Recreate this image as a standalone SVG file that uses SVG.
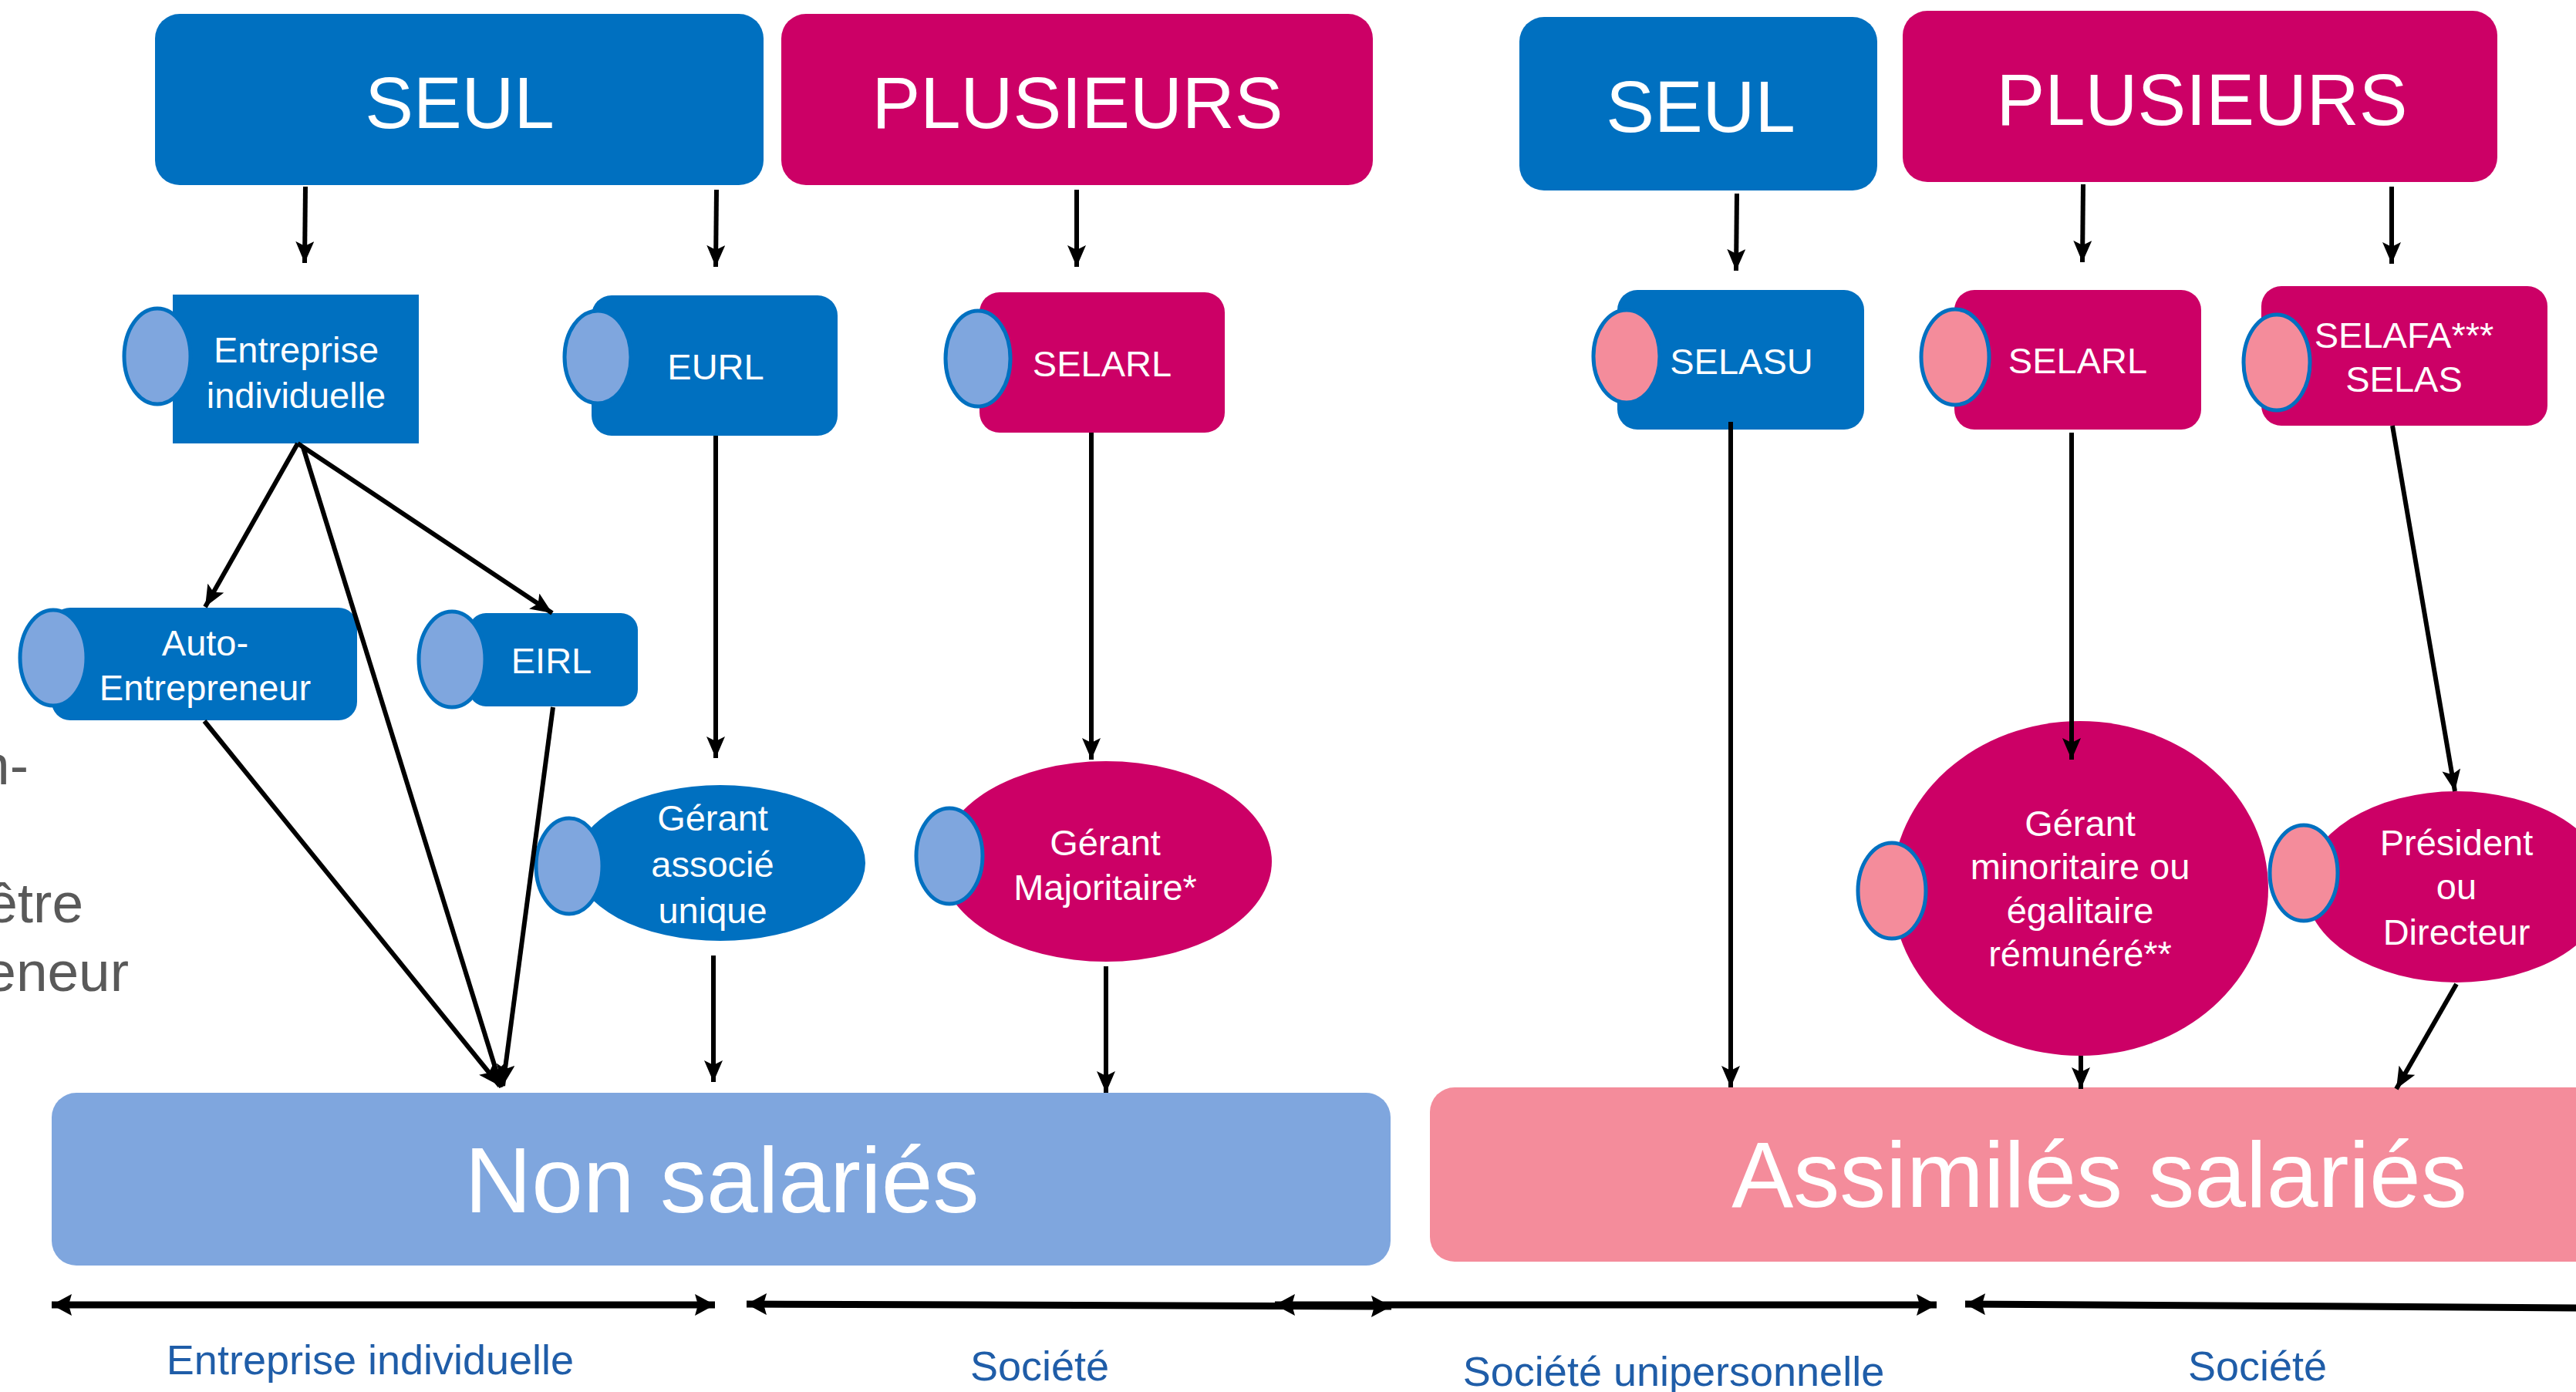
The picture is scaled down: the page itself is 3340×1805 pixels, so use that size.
<svg xmlns="http://www.w3.org/2000/svg" width="3340" height="1805" viewBox="0 0 3340 1805">
<style>
.blue{fill:#0070C0}
.mag{fill:#CC0066}
.lb{fill:#7FA6DE;stroke:#0070C0;stroke-width:5}
.pk{fill:#F48C9B;stroke:#0070C0;stroke-width:5}
text{font-family:"Liberation Sans",Arial,sans-serif;fill:#fff;text-anchor:middle}
.big{font-size:94px}
.node{font-size:47px}
.huge{font-size:120px}
.lbl{font-size:54px;fill:#1F5DA8}
.grey{font-size:73px;fill:#595959;text-anchor:end}
.c{fill:none;stroke:#000;stroke-width:6}
.b{fill:none;stroke:#000;stroke-width:9}
</style>
<defs>
<marker id="ah" markerUnits="userSpaceOnUse" markerWidth="28" markerHeight="24" viewBox="0 0 28 24" refX="28" refY="12" orient="auto"><path d="M0,0 L28,12 L0,24 L6,12 z" fill="#000"/></marker>
<marker id="bh" markerUnits="userSpaceOnUse" markerWidth="26" markerHeight="28" viewBox="0 0 26 28" refX="26" refY="14" orient="auto-start-reverse"><path d="M0,0 L26,14 L0,28 L4,14 z" fill="#000"/></marker>
</defs>

<g id="side-text">
<text class="grey" x="37" y="1017">n-</text>
<text class="grey" x="108" y="1196">être</text>
<text class="grey" x="167" y="1285">eneur</text>
</g>

<g id="seul-left"><rect class="blue" x="201" y="18" width="789" height="222" rx="32"/><text class="big" x="596" y="166">SEUL</text></g>
<g id="plusieurs-left"><rect class="mag" x="1013" y="18" width="767" height="222" rx="32"/><text class="big" x="1397" y="166">PLUSIEURS</text></g>
<g id="seul-right"><rect class="blue" x="1970" y="22" width="464" height="225" rx="32"/><text class="big" x="2205" y="171">SEUL</text></g>
<g id="plusieurs-right"><rect class="mag" x="2467" y="14" width="771" height="222" rx="32"/><text class="big" x="2855" y="162">PLUSIEURS</text></g>

<g id="ei"><rect class="blue" x="224" y="382" width="319" height="193"/><ellipse class="lb" cx="204" cy="462" rx="43" ry="62"/><text class="node" x="384" y="470">Entreprise</text><text class="node" x="384" y="529">individuelle</text></g>
<g id="eurl"><rect class="blue" x="767" y="383" width="319" height="182" rx="26"/><ellipse class="lb" cx="775" cy="463" rx="43" ry="60"/><text class="node" x="928" y="492">EURL</text></g>
<g id="selarl-left"><rect class="mag" x="1270" y="379" width="318" height="182" rx="26"/><ellipse class="lb" cx="1268" cy="465" rx="42" ry="62"/><text class="node" x="1429" y="488">SELARL</text></g>
<g id="selasu"><rect class="blue" x="2097" y="376" width="320" height="181" rx="26"/><ellipse class="pk" cx="2109" cy="462" rx="43" ry="60"/><text class="node" x="2258" y="485">SELASU</text></g>
<g id="selarl-right"><rect class="mag" x="2534" y="376" width="320" height="181" rx="26"/><ellipse class="pk" cx="2535" cy="463" rx="44" ry="62"/><text class="node" x="2694" y="484">SELARL</text></g>
<g id="selafa"><rect class="mag" x="2932" y="371" width="371" height="181" rx="26"/><ellipse class="pk" cx="2952" cy="470" rx="43" ry="62"/><text class="node" x="3117" y="451">SELAFA***</text><text class="node" x="3117" y="508">SELAS</text></g>

<g id="auto"><rect class="blue" x="67" y="788" width="396" height="146" rx="24"/><ellipse class="lb" cx="69" cy="853" rx="43" ry="62"/><text class="node" x="266" y="850">Auto-</text><text class="node" x="266" y="908">Entrepreneur</text></g>
<g id="eirl"><rect class="blue" x="608" y="795" width="219" height="121" rx="22"/><ellipse class="lb" cx="586" cy="855" rx="43" ry="62"/><text class="node" x="715" y="873">EIRL</text></g>

<g id="gerant-associe"><ellipse class="blue" cx="934" cy="1119" rx="188" ry="101"/><ellipse class="lb" cx="738" cy="1123" rx="43" ry="62"/><text class="node" x="924" y="1077">Gérant</text><text class="node" x="924" y="1137">associé</text><text class="node" x="924" y="1197">unique</text></g>
<g id="gerant-maj"><ellipse class="mag" cx="1434" cy="1117" rx="215" ry="130"/><ellipse class="lb" cx="1231" cy="1110" rx="43" ry="62"/><text class="node" x="1433" y="1109">Gérant</text><text class="node" x="1433" y="1167">Majoritaire*</text></g>
<g id="gerant-min"><ellipse class="mag" cx="2697" cy="1152" rx="244" ry="217"/><ellipse class="pk" cx="2453" cy="1155" rx="44" ry="62"/><text class="node" x="2697" y="1084">Gérant</text><text class="node" x="2697" y="1140">minoritaire ou</text><text class="node" x="2697" y="1197">égalitaire</text><text class="node" x="2697" y="1253">rémunéré**</text></g>
<g id="president"><ellipse class="mag" cx="3185" cy="1150" rx="196" ry="124"/><ellipse class="pk" cx="2987" cy="1132" rx="44" ry="62"/><text class="node" x="3185" y="1109">Président</text><text class="node" x="3185" y="1166">ou</text><text class="node" x="3185" y="1225">Directeur</text></g>

<g id="non-salaries"><rect x="67" y="1417" width="1736" height="224" rx="32" fill="#7FA6DE"/><text class="huge" x="936" y="1572">Non salariés</text></g>
<g id="assimiles"><rect x="1854" y="1410" width="1560" height="226" rx="32" fill="#F48C9B"/><text class="huge" x="2722" y="1565">Assimilés salariés</text></g>

<g id="connectors">
<line class="c" x1="396" y1="242" x2="395" y2="341" marker-end="url(#ah)"/>
<line class="c" x1="929" y1="246" x2="928" y2="346" marker-end="url(#ah)"/>
<line class="c" x1="1396" y1="246" x2="1396" y2="346" marker-end="url(#ah)"/>
<line class="c" x1="2252" y1="251" x2="2251" y2="351" marker-end="url(#ah)"/>
<line class="c" x1="2701" y1="239" x2="2700" y2="340" marker-end="url(#ah)"/>
<line class="c" x1="3101" y1="242" x2="3101" y2="342" marker-end="url(#ah)"/>
<line class="c" x1="386" y1="575" x2="266" y2="787" marker-end="url(#ah)"/>
<line class="c" x1="386" y1="575" x2="716" y2="795" marker-end="url(#ah)"/>
<line class="c" x1="393" y1="580" x2="650" y2="1410" marker-end="url(#ah)"/>
<line class="c" x1="265" y1="935" x2="648" y2="1408" marker-end="url(#ah)"/>
<line class="c" x1="717" y1="917" x2="652" y2="1408" marker-end="url(#ah)"/>
<line class="c" x1="928" y1="565" x2="928" y2="983" marker-end="url(#ah)"/>
<line class="c" x1="925" y1="1239" x2="925" y2="1403" marker-end="url(#ah)"/>
<line class="c" x1="1415" y1="561" x2="1415" y2="985" marker-end="url(#ah)"/>
<line class="c" x1="1434" y1="1253" x2="1434" y2="1417" marker-end="url(#ah)"/>
<line class="c" x1="2244" y1="547" x2="2244" y2="1410" marker-end="url(#ah)"/>
<line class="c" x1="2686" y1="561" x2="2686" y2="985" marker-end="url(#ah)"/>
<line class="c" x1="2698" y1="1369" x2="2698" y2="1412" marker-end="url(#ah)"/>
<line class="c" x1="3102" y1="552" x2="3183" y2="1026" marker-end="url(#ah)"/>
<line class="c" x1="3185" y1="1276" x2="3107" y2="1412" marker-end="url(#ah)"/>
<line class="b" x1="67" y1="1692" x2="927" y2="1692" marker-start="url(#bh)" marker-end="url(#bh)"/>
<line class="b" x1="968" y1="1691" x2="1804" y2="1694" marker-start="url(#bh)" marker-end="url(#bh)"/>
<line class="b" x1="1653" y1="1692" x2="2511" y2="1692" marker-start="url(#bh)" marker-end="url(#bh)"/>
<line class="b" x1="2548" y1="1691" x2="3360" y2="1696" marker-start="url(#bh)"/>
</g>

<g id="labels">
<text class="lbl" x="480" y="1782">Entreprise individuelle</text>
<text class="lbl" x="1348" y="1790">Société</text>
<text class="lbl" x="2170" y="1797">Société unipersonnelle</text>
<text class="lbl" x="2927" y="1790">Société</text>
</g>
</svg>
